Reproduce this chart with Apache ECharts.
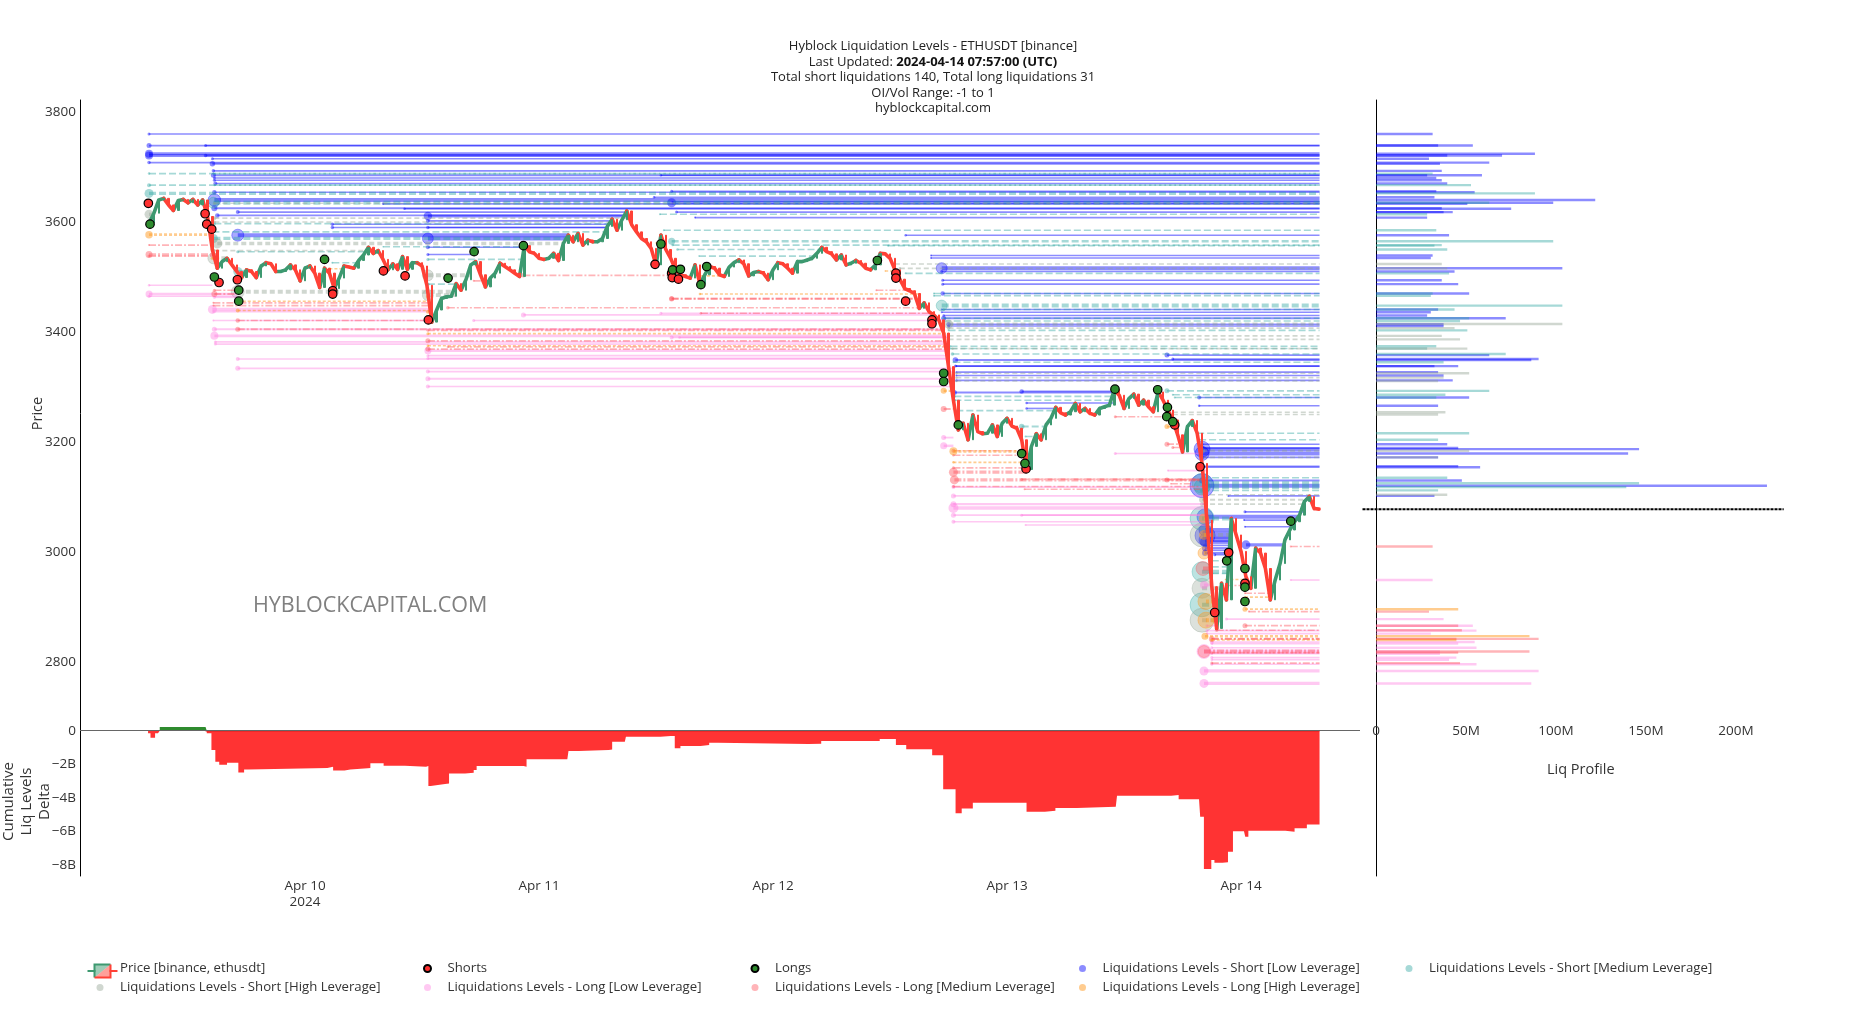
<!DOCTYPE html>
<html><head><meta charset="utf-8">
<style>html,body{margin:0;padding:0;background:#fff}#c{width:1866px;height:1014px}</style>
<script src="https://cdn.jsdelivr.net/npm/echarts@6/dist/echarts.min.js"></script>
</head><body><div id="c"></div>
<script>
// ---- data (hours are counted from 2024-04-10 00:00 UTC) ----
const closes = [
3598,3616,3640,3643,3631,3621,3639,3641,3635,3641,3631,3640,3610,3549,3516,3528,
3534,3522,3510,3499,3513,3510,3499,3520,3526,3524,3510,3510,3513,3522,3513,3493,
3516,3520,3507,3481,3516,3507,3479,3498,3520,3518,3516,3530,3540,3554,3543,3548,
3532,3513,3524,3514,3537,3514,3526,3526,3520,3485,3418,3440,3461,3464,3465,3488,
3476,3495,3522,3528,3504,3482,3498,3507,3525,3519,3513,3507,3501,3557,3546,3543,
3534,3532,3534,3543,3530,3561,3576,3564,3579,3558,3567,3564,3564,3570,3592,3605,
3585,3604,3620,3595,3582,3570,3564,3552,3522,3576,3550,3534,3513,3504,3501,3498,
3522,3488,3504,3519,3516,3504,3501,3518,3526,3531,3524,3502,3508,3510,3507,3495,
3513,3526,3524,3516,3507,3528,3528,3531,3534,3543,3554,3546,3542,3531,3540,3522,
3525,3530,3525,3516,3513,3522,3543,3542,3534,3513,3496,3479,3475,3470,3443,3453,
3437,3431,3422,3398,3337,3276,3222,3234,3204,3249,3219,3215,3216,3231,3210,3234,
3243,3229,3225,3204,3150,3192,3215,3204,3231,3243,3263,3253,3249,3255,3270,3255,
3261,3252,3249,3261,3264,3267,3295,3285,3261,3279,3287,3267,3276,3264,3255,3291,
3276,3258,3240,3213,3182,3228,3239,3216,3161,3058,2937,2861,2943,2913,3061,3031,
3001,2955,2934,3007,2998,2970,2913,2949,2979,3022,3040,3055,3067,3092,3101,3079,3078];
const firstHour = -16, stepHours = 0.5, lastHour = 104.05, currentPrice = 3077.6;

const shorts = [[-16.07,3634],[-10.25,3615],[-10.08,3596],[-9.57,3587],[-8.82,3490],[-6.94,3495],[2.84,3475],[2.84,3469],[8.04,3511],[10.26,3502],[12.65,3422],[35.9,3523],[37.6,3507],[37.66,3499],[38.3,3496],[60.6,3507],[60.6,3498],[61.6,3456],[64.3,3422],[64.3,3415],[73.95,3151],[89.2,3231],[91.8,3155],[93.3,2890],[94.73,2999],[96.4,2943]];
const longs = [[-15.9,3596],[-9.3,3500],[-6.8,3476],[-6.8,3456],[2,3532],[14.67,3498],[17.34,3546],[22.4,3557],[36.5,3560],[37.7,3513],[38.5,3514],[40.6,3486],[41.2,3519],[58.7,3530],[65.5,3325],[65.5,3310],[67,3231],[73.5,3179],[73.84,3161],[83.07,3296],[87.45,3295],[88.45,3263],[88.38,3246],[89,3237],[94.53,2984],[96.4,2970],[96.4,2936],[96.4,2910],[101.1,3056]];

// levels: [price, startHour, profile size in $M, liquidation weight, optional endHour]
const shortLow = [[3760,-16,31,30],[3739,-16,53,50],[3739,-10.2,34,30],[3724,-16,87,80],[3721,-16,69,80],[3721,-10.2,39,35],[3715,-9.5,29,30],[3708,-16,62,35],[3706,-9.5,35,55],[3693,-9.4,36,35],[3685,36.5,58,25],[3685,-9.4,28,50],[3680,-9.3,33,30],[3676,-9.3,36,30],[3670,-9.2,39,40],[3654,-9.3,54,45],[3656,37.6,33,30],[3645,35.8,32,25],[3640,-9.3,120,125],[3635,37.6,97,90],[3633,8,50,25],[3624,10.2,74,25],[3625,-9.3,36,60],[3618,-6.9,42,40],[3618,38.1,37,30],[3608,40,28,20],[3612,-9,0,45],[3611,12.6,0,85],[3602,12.6,0,40],[3596,2.8,0,35],[3590,2.8,0,35],[3590,12.6,0,35],[3576,-6.9,0,120],[3570,12.6,0,110],[3554,12.6,0,40],[3541,12.6,0,30,17.4],[3576,61.6,40,25],[3539,64.2,31,20],[3534.5,64.2,30,20],[3516,65.3,102,110],[3510,65.3,43,30],[3494,65.4,36,30],[3487,65.4,45,30],[3470,65.4,51,45],[3441,65.3,34,20],[3436,65.3,30,20],[3430,65.5,28,25],[3425,65.5,71,50],[3414,66,37,45],[3411,66,37,30],[3358,88.4,62,50],[3351,89,89,30],[3349,66.7,85,55],[3338,66.7,45,30],[3338,66.8,32,20],[3327,66.8,34,20],[3321,66.8,37,20],[3312,66.8,42,25],[3281,91.7,51,40],[3266,91.7,34,25],[3290,66.6,0,50],[3292,73.5,0,45],[3271,74,0,25],[3261,74,0,25],[3196,92,39,30],[3189,92,45,50],[3187,92,144,160],[3179,92,138,140],[3172,92,34,40],[3156,92,45,30],[3154,91.8,57,45],[3130,92,47,60],[3120.5,92,214,240],[3102,94.7,32,20],[3073,96.4,0,30],[3064,92.3,0,160],[3058,96.3,0,20],[3046,96.4,0,20],[3040,92.3,0,120],[3035,92.3,0,50],[3030,92.3,0,200],[3026,92.3,0,50],[3022,92.3,0,120],[3018,92.3,0,100],[3013,96.5,0,90],[3012,92.3,0,40],[3007,92.3,0,60],[3003,92.3,0,30],[2998,92.3,0,60],[2995,93.3,0,30]];
const shortMedium = [[3688,-16,0,25],[3667,-16,52,40],[3652,-16,87,90],[3688,-9.4,31,20],[3667,-9.3,0,20],[3635,-9.4,62,110],[3614,36.4,28,20],[3597,-9.3,0,30],[3582,-9.5,0,35],[3570,-9.4,0,90],[3546,-6.9,0,30],[3585,36.8,33,20],[3565,37.6,97,70],[3558,37.7,36,25],[3550,38.2,39,25],[3557,59.8,32,20],[3538,40.4,0,15],[3506.6,61.6,40,20],[3470,64.5,31,20],[3466,64.5,30,20],[3448,65.3,102,110],[3441,65.5,43,25],[3425,65.5,51,25],[3420,65.5,46,25],[3403,66,50,20],[3374,66.2,33,20],[3370,66.2,28,20],[3360,66.4,71,35],[3345,66.5,37,20],[3293,88.4,62,50],[3286,89,38,20],[3281,89.2,33,20],[3283,66.6,0,30],[3276,66.6,0,30],[3257,66.8,0,25],[3228,73.5,0,55],[3210,73.9,0,20],[3532,12.6,0,30],[3526,2.8,0,20],[3487,12.6,0,35],[3510,-6.9,0,90],[3555,8,0,15],[3216,91.5,51,30],[3204,91.7,34,25],[3135,92,39,30],[3125,92,144,200],[3118,92,137,160],[3112,92,34,40],[3061,92,0,240],[2964,92,0,200],[2904,92,0,240],[2984,93,0,25],[2973,93,0,25],[2961,93,0,30]];
const shortHigh = [[3614,-16,0,90],[3634,-9.3,0,30],[3607,-9.3,0,40],[3600,-9.3,0,30],[3561,-9,0,100],[3548,-9.3,0,25],[3534,-9.4,0,110],[3473,-6.9,0,130],[3503,12.6,0,110],[3467,12.6,0,110],[3523.6,60.5,36,20],[3515.7,61,39,25],[3414.5,66,102,90],[3407,66,43,30],[3393,66,36,25],[3386.6,66,46,25],[3369.7,66.4,50,25],[3325,66.8,51,25],[3317,66.8,37,25],[3311,66.8,34,25],[3254,89,38,25],[3250,89,34,25],[3184,92,51,60],[3172,92,34,20],[3104,92,39,30],[3095,92,0,60],[3087,92,0,40],[3031,92,0,240],[2934,92,0,200],[2876,92,0,240]];
const longLow = [[3485,-16,0,25,-9.5],[3469,-16,0,70,-7],[3465,-16,0,30,-7],[3463,-9.3,0,30,-7],[3441,-9.5,0,90],[3437,-9.4,0,25],[3421,-9.4,0,20],[3405,-9.3,0,50],[3393,-9.3,0,80],[3382,-9.2,0,30],[3378,-9.2,0,30],[3351,-6.9,0,40],[3334,-6.9,0,50],[3328,12.6,0,40],[3315,12.6,0,50],[3301,12.6,0,40],[3366,12.6,0,70],[3357,12.6,0,30],[3352,12.6,0,30],[3421,17.3,0,30],[3431,22.4,0,50],[3434,36.5,0,30],[3390,37.6,0,40],[3390,38.4,0,25],[3208,65.5,0,50,66.5],[3193,65.5,0,70,66.5],[3118,66.5,0,40],[3102,66.5,0,50],[3087,66.5,0,60],[3080,66.5,0,100],[3067,66.5,0,50],[3055,66.5,0,40],[3049,73.9,0,20],[3067,73.5,0,30],[3179,83.1,0,30],[3148,88.5,0,20],[2949,101.1,31,20],[2940,92.2,0,80],[2878,94.5,37,30],[2866,92.5,53,30],[2857,92.5,55,30],[2851.6,92.5,30,25],[2836.4,93,54,40],[2833.4,93,45,30],[2826,93,55,30],[2819,92.2,35,140],[2815,93,35,25],[2808,93,44,30],[2804,93,40,25],[2796,93,55,30],[2783.7,92.2,89,90],[2761,92.2,85,90]];
const longMedium = [[3558,-16,0,20],[3541,-16,0,70],[3538,-16,0,30],[3476,-9.3,0,30,-7],[3469,-9.3,0,60,-7],[3453,-9.4,0,20],[3448,-9.4,0,20],[3421,-6.9,0,45],[3405,-6.9,0,50],[3403,12.6,0,30],[3384,12.6,0,50],[3369,12.6,0,50],[3444,14.65,0,35],[3373,14.65,0,25],[3493,17.3,0,20],[3503,22.4,0,45],[3460,37.6,0,50],[3461,37.6,0,50],[3434,40.6,0,25],[3476,58.6,0,20],[3260,65.5,0,60,66.5],[3184,66.5,0,40],[3176,66.5,0,25],[3153,66.5,0,30],[3145,66.5,0,90,73.9],[3131,66.6,0,90],[3132,73.5,0,30],[3131,88.4,0,50],[3124,88.8,0,15,91],[3114,73.8,0,20],[3119,66.5,0,30],[3246,83.1,0,30],[3196,88.4,0,50],[3190,89,0,30,90],[3010,101.1,31,20],[2970,92.1,0,140],[2891.6,96.8,29,20],[2925,96.4,0,20,99],[2939,94.4,0,15,96.4],[2866,96.4,45,50],[2857.6,93.5,47,35],[2842,93,89,60],[2842,93,44,30],[2819,92.2,84,120],[2817,93,45,30],[2798,93,46,30]];
const longHigh = [[3577,-16,0,75],[3456,-6.9,0,25],[3439,-6.9,0,40],[3397,12.6,0,30],[3375,12.6,0,25],[3515,2.5,0,20,4],[3502,40.7,0,20],[3469,40.5,0,25],[3511,59.5,0,15],[3562,36,0,15,37],[3293,65.5,0,60,66.5],[3228,88.4,0,50,89],[3183,66.5,0,80],[3163,66.5,0,25],[3061,92.2,0,100],[3031,92.2,0,100],[2998,92.2,0,120],[2896,96.4,45,50],[2910,92.4,0,160],[2876,92.4,0,160],[2847,92.3,84,70],[2840,93,44,30],[2950,94.4,0,15,96.4],[2918,96.4,0,15,99],[3550,-9.5,0,35,-9.3],[3534,-9.5,0,35,-9.3],[3500,-9.3,0,40,-9],[3464,12.6,0,40,12.8],[3437,12.6,0,40,12.9],[3421,12.7,0,40,12.9]];

const deltaHours = [-16.1,-15.85,-15.38,-15.08,-14.9,-10.2,-10.08,-9.6,-9.2,-8.8,-8,-6.84,-6.25,-5.84,2.29,2.88,4.05,4.64,6.41,6.7,8.06,10.24,12.42,12.65,12.89,14.36,14.77,16.42,17.3,17.6,22.43,22.72,26.9,27.02,28.08,31.15,31.5,32.8,32.91,35.86,36.45,37.5,37.92,38.5,40.57,41.45,42.34,51.64,52.94,58.94,60.6,61.66,64.32,65.45,66.34,66.72,67.35,68.49,73.36,74,75.88,76.96,79.17,83.15,83.28,88.84,89.6,91.69,91.81,92.19,92.95,93.27,94.09,94.66,95.17,96.3,96.43,96.75,100.54,101.49,102.75,104.05];
const deltaValues = [-0.16,-0.42,-0.16,-0.16,0.22,0.22,-0.16,-1.15,-1.85,-2.03,-1.91,-2.49,-2.31,-2.23,-2.15,-2.37,-2.31,-2.25,-2.23,-1.95,-2.09,-2.15,-2.11,-3.3,-3.19,-3.15,-2.55,-2.51,-2.35,-2.11,-2.15,-1.71,-1.75,-1.21,-1.15,-1.13,-0.66,-0.64,-0.36,-0.36,-0.32,-0.32,-1.05,-0.91,-0.85,-0.72,-0.8,-0.78,-0.62,-0.5,-0.85,-1.11,-1.47,-3.5,-3.5,-4.93,-4.64,-4.3,-4.3,-4.84,-4.78,-4.62,-4.54,-4.46,-3.88,-3.84,-4.1,-4.14,-5.14,-8.26,-7.72,-7.88,-7.86,-7.22,-6,-6,-6.33,-5.97,-6.03,-5.83,-5.6,-5.33];

const priceTicks = [2800,3000,3200,3400,3600,3800];
const deltaTicks = [-8,-6,-4,-2,0];
const profileTicks = [0,50,100,150,200];
const dayTicks = [[0,'Apr 10\n2024'],[24,'Apr 11'],[48,'Apr 12'],[72,'Apr 13'],[96,'Apr 14']];

const titleLines = ['Hyblock Liquidation Levels - ETHUSDT [binance]','Last Updated: {b|2024-04-14 07:57:00 (UTC)}','Total short liquidations 140, Total long liquidations 31','OI/Vol Range: -1 to 1','hyblockcapital.com'];

// ---- helpers ----
const FONT = '"Open Sans", sans-serif';
const closeHour = i => firstHour + i*stepHours;
const profileReadingScale = 1.015;

function endOf(level, isShort){
  if (level[4] !== undefined) return level[4];
  const L = level[0];
  for (let i=1;i<closes.length;i++){
    if (closeHour(i) <= level[1]) continue;
    const a=closes[i-1], b=closes[i];
    if (isShort ? (a<L && b>=L) : (a>L && b<=L)) return closeHour(i);
  }
  return lastHour;
}

const groups = [
 {name:'Liquidations Levels - Short [Low Leverage]',   levels:shortLow,   isShort:true,  color:'#0000ff', op:.45, dash:null},
 {name:'Liquidations Levels - Short [Medium Leverage]',levels:shortMedium,isShort:true,  color:'#2ba59f', op:.42, dash:[7,3]},
 {name:'Liquidations Levels - Short [High Leverage]',  levels:shortHigh,  isShort:true,  color:'#8f9f90', op:.42, dash:[5,3]},
 {name:'Liquidations Levels - Long [Low Leverage]',    levels:longLow,    isShort:false, color:'#ff7fe0', op:.42, dash:null},
 {name:'Liquidations Levels - Long [Medium Leverage]', levels:longMedium, isShort:false, color:'#ff4d55', op:.42, dash:[7,2,2,2]},
 {name:'Liquidations Levels - Long [High Leverage]',   levels:longHigh,   isShort:false, color:'#ff9a1f', op:.5, dash:[3,2]}
];

function levelSeries(g){
  return {
    type:'custom', name:g.name, xAxisIndex:0, yAxisIndex:0, z:2, silent:true,
    encode:{x:[0,2],y:1}, itemStyle:{color:g.color,opacity:g.op},
    data:g.levels.map(l=>[l[1],l[0],endOf(l,g.isShort),l[3]]),
    renderItem(params,api){
      const a=api.coord([api.value(0),api.value(1)]), b=api.coord([api.value(2),api.value(1)]);
      const d=api.value(3)/10;
      const w=Math.max(1.6,Math.min(4,d*0.36));
      const big=d>10;
      return {type:'group',silent:true,children:[
        {type:'line',shape:{x1:a[0],y1:a[1],x2:b[0],y2:b[1]},style:{stroke:g.color,lineWidth:w,lineDash:g.dash,opacity:g.op,fill:null}},
        {type:'circle',shape:{cx:a[0],cy:a[1],r:d/2},style:{fill:g.color,opacity:big?g.op*.75:g.op,stroke:big?g.color:null,lineWidth:big?1:0}}
      ]};
    }
  };
}
function profileSeries(g){
  return {
    type:'custom', name:g.name, xAxisIndex:2, yAxisIndex:2, z:2, silent:true,
    encode:{x:1,y:0}, itemStyle:{color:g.color,opacity:g.op},
    data:g.levels.filter(l=>l[2]>0).map(l=>[l[0],l[2]*profileReadingScale]),
    renderItem(params,api){
      const a=api.coord([0,api.value(0)]), b=api.coord([api.value(1),api.value(0)]);
      return {type:'rect',silent:true,shape:{x:a[0],y:a[1]-1.2,width:b[0]-a[0],height:2.4},style:{fill:g.color,opacity:g.op}};
    }
  };
}

const candles = closes.map((c,i)=>{
  const o = i ? closes[i-1] : c;
  return [closeHour(i),o,c,Math.min(o,c),Math.max(o,c)];
});
// the thick price trace behind the candle bodies: each move from one close to the next
const traceUp=[], traceDown=[];
closes.forEach((c,i)=>{
  if(!i) return;
  const seg=[[closeHour(i-1),closes[i-1]],[closeHour(i),c],[closeHour(i),null]];
  (c>=closes[i-1]?traceUp:traceDown).push(...seg);
});
const traceSeries=(name,data,color)=>({type:'line',name,xAxisIndex:0,yAxisIndex:0,z:3,silent:true,showSymbol:false,connectNulls:false,data,
  lineStyle:{color,width:3.6,cap:'round',join:'round'},itemStyle:{color}});

const deltaPairs = deltaHours.map((h,i)=>[h,deltaValues[i]]);
const deltaNeg = deltaPairs.map(p=>p[1]<=0?p:[p[0],null]);
const deltaPos = deltaPairs.map(p=>p[1]>0?p:[p[0],null]);

const axisText = {fontFamily:FONT,fontSize:13.5,color:'#333'};
const xMin=-23.08, xMax=108.2;

const legendBase = (left,top,extra)=>Object.assign({left,top,orient:'vertical',itemWidth:30,itemHeight:7,itemGap:6,icon:'circle',selectedMode:false,padding:0,textStyle:{fontFamily:FONT,fontSize:13.2,color:'#333'}},extra);
const [gLow,gMed,gHigh,gLL,gLM,gLH]=groups.map(g=>g.name);

const option = {
  animation:false, backgroundColor:'#fff',
  title:{ text:titleLines.join('\n'), left:928, top:33.5, textAlign:'center',
    textStyle:{fontFamily:FONT,fontSize:13,fontWeight:'normal',color:'#222',lineHeight:15.6,
      rich:{b:{fontFamily:FONT,fontSize:13,fontWeight:'bold',color:'#111',lineHeight:15.6}}}},
  grid:[
    {left:80,top:100,width:1280,height:627,outerBoundsMode:'none'},
    {left:80,top:727,width:1280,height:149,outerBoundsMode:'none'},
    {left:1362.5,top:100,width:421.2,height:776,outerBoundsMode:'none'}
  ],
  xAxis:[
    {type:'value',gridIndex:0,min:xMin,max:xMax,show:false},
    {type:'value',gridIndex:1,min:xMin,max:xMax,splitLine:{show:false},axisTick:{show:false},
      axisLine:{show:false,onZero:false},
      axisLabel:{...axisText,margin:2,lineHeight:16,hideOverlap:false,
        customValues:dayTicks.map(d=>d[0]),
        formatter:v=>{const m=dayTicks.find(d=>d[0]===+v);return m?m[1]:'';}}},
    {type:'value',gridIndex:2,min:-7.5,max:226.5,offset:-153.5,splitLine:{show:false},axisTick:{show:false},axisLine:{show:false,onZero:false},
      axisLabel:{...axisText,margin:2,customValues:profileTicks,formatter:v=>v===0?'0':v+'M'}}
  ],
  yAxis:[
    {type:'value',gridIndex:0,min:2681.8,max:3821.8,splitLine:{show:false},axisTick:{show:false},
      axisLine:{show:true,onZero:false,lineStyle:{color:'#000'}},
      axisLabel:{...axisText,margin:4,customValues:priceTicks,formatter:v=>String(v)},
      name:'Price',nameLocation:'middle',nameGap:35,nameMoveOverlap:false,nameRotate:90,nameTextStyle:{fontFamily:FONT,fontSize:14.5,color:'#333'}},
    {type:'value',gridIndex:1,min:-8.675,max:0.22,splitLine:{show:false},axisTick:{show:false},
      axisLine:{show:true,onZero:false,lineStyle:{color:'#000'}},
      axisLabel:{...axisText,margin:4,customValues:deltaTicks,formatter:v=>v===0?'0':'\u2212'+Math.abs(v)+'B'},
      name:'Cumulative\nLiq Levels\nDelta',nameLocation:'middle',nameGap:26,nameMoveOverlap:false,nameRotate:90,
      nameTextStyle:{fontFamily:FONT,fontSize:15,color:'#333',lineHeight:18}},
    {type:'value',gridIndex:2,min:2410.9,max:3821.8,splitLine:{show:false},axisTick:{show:false},
      axisLine:{show:true,onZero:true,lineStyle:{color:'#000'}},axisLabel:{show:false}}
  ],
  legend:[
    legendBase(85,962,{data:[{name:'Price [binance, ethusdt]',icon:'rect',itemStyle:{opacity:0,borderWidth:0}},{name:gHigh,icon:'circle'}]}),
    legendBase(423,962,{data:[{name:'Shorts',icon:'circle'},{name:gLL,icon:'circle'}]}),
    legendBase(750.5,962,{data:[{name:'Longs',icon:'circle'},{name:gLM,icon:'circle'}]}),
    legendBase(1079,962,{data:[{name:gLow,icon:'circle'},{name:gLH,icon:'circle'}]}),
    legendBase(1405.5,962,{data:[{name:gMed,icon:'circle'}]})
  ],
  graphic:[
    {type:'text',left:253,top:595,style:{text:'HYBLOCKCAPITAL.COM',fill:'#808080',font:'21.5px "Open Sans", sans-serif'},silent:true},
    {type:'text',left:1547,top:762,style:{text:'Liq Profile',fill:'#333',font:'14.5px "Open Sans", sans-serif'},silent:true},
    {type:'group',left:85,top:962,silent:true,children:[
      {type:'line',shape:{x1:0,y1:6.5,x2:8,y2:6.5},style:{stroke:'#3D9970',lineWidth:2}},
      {type:'line',shape:{x1:22,y1:6.5,x2:30,y2:6.5},style:{stroke:'#FF4136',lineWidth:2}},
      {type:'polygon',shape:{points:[[7,0],[23,0],[7,13]]},style:{fill:'rgba(61,153,112,.5)'}},
      {type:'polygon',shape:{points:[[23,0],[23,13],[7,13]]},style:{fill:'rgba(255,65,54,.5)'}},
      {type:'polyline',shape:{points:[[7,13],[7,0],[23,0]]},style:{stroke:'#3D9970',lineWidth:2,fill:null}},
      {type:'polyline',shape:{points:[[23,0],[23,13],[7,13]]},style:{stroke:'#FF4136',lineWidth:2,fill:null}}
    ]}
  ],
  series:[
    ...groups.map(levelSeries),
    ...groups.map(profileSeries),
    traceSeries('price-up',traceUp,'#3D9970'),
    traceSeries('price-down',traceDown,'#FF4136'),
    {type:'candlestick',name:'Price [binance, ethusdt]',xAxisIndex:0,yAxisIndex:0,z:3,silent:true,barWidth:2,
      encode:{x:0,y:[1,2,3,4]},data:candles,
      itemStyle:{color:'#3D9970',color0:'#FF4136',borderColor:'#3D9970',borderColor0:'#FF4136',borderWidth:1}},
    {type:'scatter',name:'Shorts',xAxisIndex:0,yAxisIndex:0,z:4,silent:true,symbolSize:8.5,data:shorts,
      itemStyle:{color:'#ff3030',borderColor:'#000',borderWidth:1.2,opacity:1}},
    {type:'scatter',name:'Longs',xAxisIndex:0,yAxisIndex:0,z:4,silent:true,symbolSize:8.5,data:longs,
      itemStyle:{color:'#2e8b2e',borderColor:'#000',borderWidth:1.2,opacity:1}},
    {type:'line',name:'delta-',xAxisIndex:1,yAxisIndex:1,z:2,silent:true,step:'end',showSymbol:false,connectNulls:false,data:deltaNeg,
      lineStyle:{width:0},itemStyle:{color:'#ff3333'},areaStyle:{color:'#ff3333',opacity:1},
      markLine:{silent:true,symbol:'none',animation:false,label:{show:false},lineStyle:{color:'#666',width:1,type:'solid'},data:[{yAxis:0}]}},
    {type:'line',name:'delta+',xAxisIndex:1,yAxisIndex:1,z:2,silent:true,step:'end',showSymbol:false,connectNulls:false,data:deltaPos,
      lineStyle:{width:0},itemStyle:{color:'#2e8b2e'},areaStyle:{color:'#2e8b2e',opacity:1}},
    {type:'line',name:'delta-edge',xAxisIndex:1,yAxisIndex:1,z:3,silent:true,showSymbol:false,
      data:[[-10.2,0],[lastHour,0]],lineStyle:{color:'#d81e1e',width:1.5}},
    {type:'line',name:'current',xAxisIndex:2,yAxisIndex:2,z:5,silent:true,showSymbol:false,
      data:[[-7.5,currentPrice],[226.5,currentPrice]],lineStyle:{color:'#000',width:2,type:[3,1]}}
  ]
};
const chart = echarts.init(document.getElementById('c'),null,{renderer:'canvas'});
chart.setOption(option);
</script></body></html>
